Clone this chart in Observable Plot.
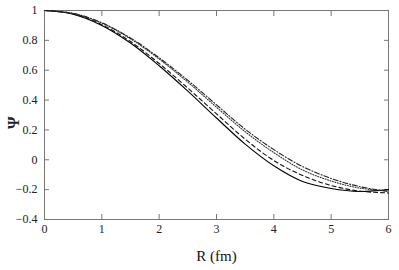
<!DOCTYPE html>
<html>
<head>
<meta charset="utf-8">
<script src="https://cdn.jsdelivr.net/npm/d3@7"></script>
<script src="https://cdn.jsdelivr.net/npm/@observablehq/plot@0.6"></script>
<style>
  html, body { margin: 0; padding: 0; background: #fff; }
  svg, svg text { font-family: "Liberation Serif", "Times New Roman", Times, serif !important; }
</style>
</head>
<body>
<div id="chart"></div>
<script>
const R = [0, 0.5, 1, 1.5, 2, 2.5, 3, 3.5, 4, 4.5, 5, 5.5, 6];
const psiSolid   = [1, 0.975, 0.900, 0.782, 0.630, 0.460, 0.280, 0.105, -0.040, -0.145, -0.192, -0.212, -0.200];
const psiDashed  = [1, 0.977, 0.905, 0.792, 0.645, 0.480, 0.308, 0.138, -0.005, -0.105, -0.172, -0.210, -0.222];
const psiDotted  = [1, 0.980, 0.915, 0.810, 0.675, 0.520, 0.352, 0.188, 0.048, -0.068, -0.142, -0.190, -0.210];
const psiDashDot = [1, 0.981, 0.918, 0.816, 0.683, 0.532, 0.368, 0.205, 0.068, -0.045, -0.125, -0.180, -0.212];
const xTicks = [0, 1, 2, 3, 4, 5, 6];
const yTicks = [-0.4, -0.2, 0, 0.2, 0.4, 0.6, 0.8, 1];

const series = [
  {name: "solid", values: psiSolid, dash: null, color: "#000"},
  {name: "dashed", values: psiDashed, dash: "4,3", color: "#111"},
  {name: "dotted", values: psiDotted, dash: "1,1.6", color: "#333"},
  {name: "dashdot", values: psiDashDot, dash: "5,2,1,2", color: "#222"}
];
const rows = series.flatMap(s => R.map((r, i) => ({series: s.name, R: r, psi: s.values[i]})));
const fmt = d3.format("");

const chart = Plot.plot({
  width: 399,
  height: 270,
  marginLeft: 44,
  marginRight: 11,
  marginTop: 10,
  marginBottom: 51,
  style: {fontFamily: "Liberation Serif, Times New Roman, serif", fontSize: "12px", background: "#fff", color: "#222"},
  x: {domain: [0, 6]},
  y: {domain: [-0.4, 1]},
  marks: [
    Plot.frame({stroke: "#777"}),
    Plot.axisX(xTicks, {anchor: "bottom", tickSize: -5, text: null, label: null, stroke: "#777"}),
    Plot.axisX(xTicks, {anchor: "top", tickSize: -5, text: null, label: null, stroke: "#777"}),
    Plot.axisY(yTicks, {anchor: "left", tickSize: -5, text: null, label: null, stroke: "#777"}),
    Plot.axisY(yTicks, {anchor: "right", tickSize: -5, text: null, label: null, stroke: "#777"}),
    Plot.axisX(xTicks, {anchor: "bottom", tickSize: 0, tickPadding: 5, tickFormat: fmt, label: null, fontSize: 12, fill: "#222"}),
    Plot.axisY(yTicks, {anchor: "left", tickSize: 0, tickPadding: 7, tickFormat: fmt, label: null, fontSize: 12, fill: "#222"}),
    ...series.map(s => Plot.line(rows.filter(d => d.series === s.name), {
      x: "R", y: "psi", curve: "catmull-rom", stroke: s.color, strokeWidth: 1.1, strokeDasharray: s.dash
    })),
    Plot.text(["R (fm)"], {frameAnchor: "bottom", dy: 41, fontSize: 15, fill: "#111"}),
    Plot.text(["Ψ"], {frameAnchor: "left", dx: -31, dy: 14, rotate: -90, fontSize: 16, fontWeight: "bold", fill: "#222"})
  ]
});
document.getElementById("chart").appendChild(chart);
</script>
</body>
</html>
